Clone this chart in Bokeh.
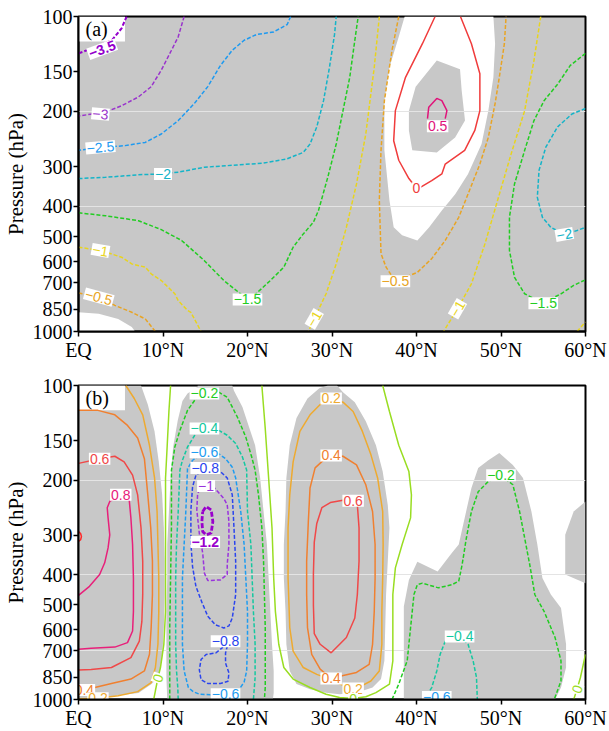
from bokeh.plotting import figure
from bokeh.layouts import column
from bokeh.models import FixedTicker, Range1d, Label, BoxAnnotation, ColumnDataSource
from bokeh.core.properties import value
from bokeh.embed import file_html
from bokeh.resources import INLINE

# ---------------- axes ----------------
LAT_TICKS = [0, 10, 20, 30, 40, 50, 60]
LAT_LABELS = ["EQ", "10°N", "20°N", "30°N", "40°N", "50°N", "60°N"]
P_TICKS = [100, 150, 200, 300, 400, 500, 600, 700, 850, 1000]

# ---------------- panel (a): contour lines (lat, hPa) ----------------
A_M35_LAT = [5.7, 5.1, 3.95, 2.0, 0.0]
A_M35_P = [100, 109, 119, 125, 131]
A_M3_LAT = [12.5, 11.8, 11.0, 9.8, 8.6, 7.1, 5.1, 3.2, 0.0]
A_M3_P = [100, 116, 128, 148, 167, 180, 192, 201, 207]
A_M25_LAT = [25.1, 24.7, 23.1, 21.1, 19.6, 18.2, 16.8, 15.3, 13.7, 11.8, 9.8, 7.9, 5.5, 3.2, 0.0]
A_M25_P = [100, 106, 112, 114, 119, 128, 143, 167, 189, 214, 236, 251, 257, 260, 266]
A_M2_LAT = [0.0, 3.2, 7.1, 9.8, 11.8, 14.9, 18.8, 21.9, 24.7, 26.6, 27.4, 28.2, 29.0, 29.7, 30.3, 30.5]
A_M2_P = [327, 324, 318, 316, 312, 301, 296, 292, 283, 270, 254, 224, 185, 145, 114, 100]
A_M15_LAT = [0.0, 3.2, 7.1, 9.8, 12.2, 14.9, 17.2, 18.8, 20.0, 21.1, 22.7, 24.3, 25.4, 26.6, 27.8, 28.4, 29.5, 30.5, 31.3, 32.1, 32.7, 33.1]
A_M15_P = [420, 429, 445, 475, 514, 596, 689, 745, 791, 755, 689, 625, 540, 490, 450, 413, 324, 254, 199, 156, 119, 100]
A_M15R_LAT = [60.0, 58.2, 56.7, 55.1, 53.9, 52.8, 51.6, 51.0, 51.0, 51.6, 52.8, 55.0, 57.1, 58.6, 60.0]
A_M15R_P = [131, 143, 164, 185, 214, 266, 340, 434, 553, 673, 759, 813, 759, 714, 685]
A_M2R_LAT = [60.0, 58.4, 56.7, 55.3, 54.5, 54.3, 54.9, 55.9, 57.5, 59.0, 60.0]
A_M2R_P = [196, 204, 224, 260, 308, 375, 434, 467, 492, 478, 467]
A_M1_LAT = [0.0, 2.6, 5.1, 6.3, 7.9, 8.6, 9.8, 10.2, 11.4, 11.8, 12.9, 13.3, 14.5]
A_M1_P = [540, 553, 581, 610, 625, 656, 689, 706, 759, 798, 857, 869, 1000]
A_M1M_LAT = [35.6, 35.0, 34.0, 32.9, 31.7, 30.5, 29.3, 27.9, 27.2]
A_M1M_P = [100, 145, 236, 340, 467, 610, 759, 912, 1000]
A_M1R_LAT = [54.7, 53.9, 52.8, 51.2, 49.7, 48.1, 46.5, 44.85, 43.2]
A_M1R_P = [100, 138, 199, 273, 375, 527, 706, 847, 1000]
A_M1C_LAT = [59.0, 60.0]
A_M1C_P = [1000, 933]
A_M05_LAT = [0.0, 2.4, 4.3, 6.3, 7.9, 9.0, 9.1]
A_M05_P = [755, 778, 826, 869, 912, 993, 1000]
A_M05M_LAT = [37.9, 37.1, 36.2, 35.8, 35.6, 35.8, 36.4, 37.5, 40.1, 41.8, 43.4, 45.0, 46.1, 47.5, 48.5, 49.3, 49.8, 50.4, 50.6]
A_M05M_P = [100, 128, 185, 266, 384, 566, 625, 693, 649, 587, 514, 434, 366, 294, 242, 189, 156, 122, 100]
A_Z_LAT = [42.2, 40.7, 38.7, 37.5, 37.3, 37.9, 39.1, 40.0, 40.5, 41.8, 43.0, 43.4, 45.7, 46.9, 47.5, 47.5, 46.5, 45.2]
A_Z_P = [100, 122, 156, 199, 248, 286, 327, 351, 348, 332, 316, 294, 266, 230, 199, 152, 122, 100]
A_P05_LAT = [41.3, 41.45, 42.4, 43.0, 43.6, 43.4]
A_P05_P = [211, 194, 182, 185, 199, 211]

# panel (a): significance shading (whole frame grey except these)
A_WHITE_LAT = [38.6, 49.1, 49.3, 49.1, 48.5, 47.7, 46.1, 44.6, 43.0, 41.5, 40.1, 38.3, 37.3, 36.8, 36.2, 36.2, 36.8, 37.9]
A_WHITE_P = [100, 100, 122, 156, 199, 254, 316, 366, 413, 467, 514, 495, 467, 384, 266, 185, 145, 116]
A_ISLAND_LAT = [39.1, 39.9, 42.4, 45.15, 45.35, 45.74, 44.57, 42.4, 39.5, 39.1]
A_ISLAND_P = [199, 167, 138, 147, 172, 214, 242, 270, 266, 230]
A_CORNER_LAT = [0.0, 2.4, 4.7, 6.3, 6.7, 0.0]
A_CORNER_P = [869, 879, 912, 968, 1000, 1000]

# panel (a): contour labels
A_LBL_TEXT = ["−3.5", "−3", "−2.5", "−2", "−1.5", "−1", "−0.5", "−1", "−0.5", "0", "0.5", "−1", "−2", "−1.5"]
A_LBL_LAT = [2.8, 2.6, 2.6, 10.0, 20.0, 2.6, 2.4, 27.9, 37.5, 40.0, 42.5, 44.85, 57.5, 55.0]
A_LBL_P = [127, 204, 260, 316, 791, 553, 778, 912, 693, 351, 223, 847, 492, 813]
A_LBL_LEVEL = [-3.5, -3, -2.5, -2, -1.5, -1, -0.5, -1, -0.5, 0, 0.5, -1, -2, -1.5]

# ---------------- panel (b): contour lines ----------------
B_P02A_LAT = [5.6, 6.6, 7.6, 8.4, 9.0, 9.3, 9.4, 9.5, 9.5, 9.4, 9.1, 8.6, 7.0, 4.7, 2.3, 0.0]
B_P02A_P = [100, 110, 124, 155, 197, 252, 321, 410, 524, 667, 791, 883, 944, 973, 991, 995]
B_P04A_LAT = [0.0, 2.3, 4.3, 5.8, 7.0, 7.8, 8.2, 8.55, 8.75, 8.75, 8.6, 8.4, 7.8, 6.2, 3.9, 0.7, 0.0]
B_P04A_P = [120, 120, 124, 134, 147, 171, 223, 284, 363, 463, 590, 718, 811, 861, 889, 933, 938]
B_P06A_LAT = [0.0, 2.5, 4.3, 5.4, 6.4, 7.0, 7.4, 7.6, 7.6, 7.5, 7.2, 6.2, 3.9, 1.5, 0.0]
B_P06A_P = [177, 171, 168, 175, 193, 223, 284, 363, 463, 564, 652, 736, 791, 802, 805]
B_P08_LAT = [0.0, 1.3, 2.5, 3.1, 3.5, 3.7, 3.5, 3.4, 3.7, 5.0, 6.0, 6.2, 6.4, 6.5, 6.5, 6.4, 5.8, 4.3, 1.5, 0.0]
B_P08_P = [466, 436, 400, 367, 329, 299, 264, 245, 234, 223, 231, 264, 321, 410, 524, 605, 659, 681, 687, 692]
B_P10_LAT = [0.0, 0.25, 0.35, 0.25, 0.0]
B_P10_P = [292, 296, 303, 310, 314]
B_Z1_LAT = [10.9, 10.7, 10.5, 10.3, 10.3, 10.3, 10.3, 10.3, 10.1, 9.7, 9.4, 9.1, 8.9]
B_Z1_P = [100, 121, 155, 197, 252, 321, 410, 524, 667, 791, 855, 938, 1000]
B_Z2_LAT = [21.7, 22.1, 22.5, 22.9, 23.1, 23.3, 23.7, 24.3, 25.4, 27.4, 29.3, 30.9, 32.5, 34.0, 35.2, 36.8, 37.2, 37.2, 37.2, 37.5, 38.3, 39.3, 39.4, 39.1, 37.9, 36.8, 36.0]
B_Z2_P = [100, 137, 197, 284, 410, 524, 667, 791, 861, 916, 962, 986, 993, 980, 951, 893, 753, 590, 463, 381, 321, 264, 223, 188, 155, 121, 100]
B_Z3_LAT = [60.0, 59.4, 59.0, 58.6]
B_Z3_P = [718, 851, 927, 1000]
B_M02_LAT = [10.8, 10.8, 10.8, 10.9, 11.0, 11.0, 11.4, 12.0, 12.9, 13.9, 14.9, 16.6, 17.6, 18.8, 19.8, 20.5, 20.9, 21.3, 21.7, 21.9, 22.0, 22.1, 22.1, 22.1, 22.0]
B_M02_P = [1000, 843, 585, 406, 282, 186, 157, 139, 120, 110, 106, 105, 109, 126, 146, 169, 186, 223, 284, 363, 463, 590, 753, 916, 1000]
B_M04_LAT = [11.8, 11.75, 11.6, 11.5, 11.5, 11.5, 11.6, 11.8, 12.0, 12.3, 12.9, 13.9, 14.9, 16.6, 17.6, 18.6, 19.4, 19.9, 20.0, 20.4, 20.55, 20.7, 20.9, 20.9, 20.7]
B_M04_P = [1000, 916, 811, 667, 524, 410, 321, 252, 186, 173, 157, 142, 137, 139, 144, 153, 169, 186, 252, 321, 410, 524, 667, 851, 1000]
B_M06_LAT = [14.9, 13.5, 12.9, 12.7, 12.5, 12.3, 12.3, 12.3, 12.5, 13.0, 13.6, 14.3, 15.6, 17.4, 19.0, 19.6, 19.9, 20.0, 20.0, 19.8, 19.6, 19.2, 18.6, 18.2, 17.4, 16.6, 14.9]
B_M06_P = [163, 173, 184, 252, 321, 410, 524, 667, 811, 916, 945, 962, 966, 962, 930, 880, 811, 667, 524, 410, 321, 252, 197, 182, 171, 165, 163]
B_M08U_LAT = [15.0, 13.9, 13.5, 13.3, 13.3, 13.5, 13.9, 14.6, 15.3, 16.2, 17.2, 17.8, 18.2, 18.6, 18.6, 18.4, 18.2, 17.6, 16.6, 15.0]
B_M08U_P = [183, 193, 210, 249, 318, 378, 437, 490, 543, 578, 592, 583, 550, 463, 363, 284, 223, 197, 186, 183]
B_M08L_LAT = [17.4, 17.0, 16.25, 15.1, 14.5, 14.3, 14.5, 15.3, 16.8, 17.7, 17.8, 17.4, 17.4, 17.6, 17.4]
B_M08L_P = [652, 685, 711, 719, 746, 804, 865, 889, 889, 875, 822, 766, 711, 678, 652]
B_M1_LAT = [15.1, 16.1, 17.2, 17.6, 17.8, 17.8, 17.6, 17.6, 16.8, 15.3, 14.9, 14.7, 14.3, 14.0, 14.1, 14.5, 15.1]
B_M1_P = [209, 212, 229, 240, 271, 321, 372, 400, 416, 418, 396, 342, 296, 249, 221, 211, 209]
B_M12_LAT = [14.7, 15.1, 15.7, 15.9, 15.7, 15.1, 14.7, 14.6, 14.7]
B_M12_P = [252, 243, 249, 271, 295, 299, 292, 271, 252]
B_P02B_LAT = [29.9, 31.3, 32.5, 33.6, 34.6, 35.4, 36.0, 36.05, 36.0, 35.9, 35.9, 35.6, 34.6, 33.5, 32.5, 31.0, 29.7, 28.2, 26.6, 25.4, 25.0, 24.8, 24.8, 25.0, 25.4, 26.2, 27.4, 28.6, 29.3, 29.9]
B_P02B_P = [110, 113, 121, 140, 166, 197, 252, 321, 410, 524, 667, 811, 873, 905, 923, 895, 861, 832, 791, 701, 590, 410, 284, 223, 175, 140, 124, 115, 111, 110]
B_P04B_LAT = [29.9, 31.3, 32.9, 34.0, 34.8, 35.1, 35.1, 35.0, 34.8, 34.4, 32.9, 31.2, 29.9, 28.6, 27.6, 27.1, 27.0, 27.0, 27.2, 27.4, 28.0, 29.7, 29.9]
B_P04B_P = [167, 168, 179, 207, 252, 321, 410, 524, 667, 773, 820, 840, 857, 800, 718, 590, 463, 363, 271, 212, 183, 166, 167]
B_P06B_LAT = [32.5, 33.0, 33.2, 33.2, 33.0, 32.7, 31.7, 29.9, 28.6, 27.9, 27.8, 27.8, 27.9, 28.2, 28.8, 29.8, 31.3, 32.5]
B_P06B_P = [233, 240, 284, 363, 463, 550, 635, 710, 667, 617, 501, 398, 316, 275, 245, 236, 232, 233]
B_M02B_LAT = [37.1, 37.9, 38.9, 39.3, 39.7, 40.1, 40.7, 42.6, 44.2, 45.0, 45.4, 45.9, 46.5, 47.3, 48.5, 50.0, 51.4, 52.2, 52.8, 53.4, 54.0, 55.1, 56.4, 57.1, 57.1, 56.3]
B_M02B_P = [1000, 893, 753, 590, 463, 431, 426, 441, 431, 420, 372, 306, 252, 218, 202, 193, 207, 252, 306, 372, 463, 524, 635, 753, 873, 1000]
B_M04B_LAT = [40.7, 41.2, 41.8, 42.4, 42.8, 43.4, 45.1, 46.1, 46.7, 47.1, 47.2]
B_M04B_P = [1000, 973, 916, 811, 718, 652, 630, 667, 753, 851, 1000]

# panel (b): significance shading (grey patches on white)
B_S1_LAT = [0.0, 7.4, 8.2, 9.0, 9.5, 9.9, 10.1, 10.2, 10.2, 10.1, 9.9, 9.5, 8.6, 7.1, 3.2, 0.0]
B_S1_P = [100, 100, 115, 140, 175, 223, 284, 363, 463, 590, 736, 851, 895, 953, 982, 989]
B_S2_LAT = [12.9, 14.1, 14.1, 18.2, 18.4, 19.4, 20.2, 20.9, 21.5, 21.9, 22.3, 22.5, 22.7, 22.9, 23.1, 23.1, 23.0, 10.5, 10.4, 10.4, 10.4, 10.5, 10.5, 10.7, 10.9, 11.2, 11.75, 12.3]
B_S2_P = [106, 101, 100, 100, 104, 117, 136, 155, 197, 252, 321, 410, 524, 667, 811, 953, 1000, 1000, 851, 667, 524, 410, 321, 252, 197, 157, 129, 112]
B_S3_LAT = [27.1, 28.5, 29.5, 30.6, 31.3, 32.7, 34.0, 35.2, 36.0, 36.6, 36.8, 36.6, 36.4, 36.3, 36.2, 35.8, 34.8, 32.9, 30.9, 29.3, 27.4, 25.8, 25.0, 24.6, 24.5, 24.3, 24.3, 24.5, 24.6, 25.0, 25.8]
B_S3_P = [110, 102, 100, 100, 105, 113, 130, 155, 188, 240, 284, 363, 463, 590, 753, 861, 916, 951, 962, 951, 927, 893, 811, 667, 524, 410, 321, 252, 197, 155, 127]
B_S4_LAT = [38.5, 38.5, 39.1, 40.1, 42.5, 44.2, 45.0, 45.7, 46.5, 47.3, 48.5, 49.8, 51.4, 52.6, 53.6, 54.3, 54.9, 55.9, 57.1, 57.7, 57.7, 57.1, 56.4]
B_S4_P = [1000, 506, 416, 364, 391, 341, 321, 264, 212, 183, 173, 164, 179, 197, 252, 321, 410, 463, 511, 667, 791, 916, 1000]
B_S5_LAT = [60.0, 58.6, 57.6, 57.6, 60.0]
B_S5_P = [234, 252, 299, 400, 426]

# panel (b): contour labels
B_LBL_TEXT = ["0.6", "0.8", "0.4", "0.2", "0", "−0.2", "−0.4", "−0.6", "−0.8", "−1", "−1.2", "−0.8", "−0.6",
              "0.2", "0.4", "0.6", "0.4", "0.2", "0", "−0.2", "−0.4", "−0.6", "0"]
B_LBL_LAT = [2.5, 5.0, 0.7, 2.3, 9.4, 14.9, 14.9, 14.9, 15.0, 15.1, 15.0, 17.4, 17.4,
             29.9, 29.9, 32.5, 29.9, 32.5, 32.5, 50.0, 45.1, 42.4, 59.0]
B_LBL_P = [171, 223, 933, 991, 855, 106, 137, 163, 183, 209, 315, 652, 962,
           110, 167, 233, 857, 923, 997, 193, 630, 982, 927]
B_LBL_LEVEL = [0.6, 0.8, 0.4, 0.2, 0, -0.2, -0.4, -0.6, -0.8, -1, -1.2, -0.8, -0.6,
               0.2, 0.4, 0.6, 0.4, 0.2, 0, -0.2, -0.4, -0.6, 0]

# ---------------- styles ----------------
GRAY = "#c8c8c8"
SERIF = "Liberation Serif"
SANS = "Liberation Sans"
A_COLORS = {-3.5: "#9400cc", -3: "#9933cc", -2.5: "#1e9af0", -2: "#14b4c8", -1.5: "#22cc22",
            -1: "#e8d41e", -0.5: "#e8a424", 0: "#f03c3c", 0.5: "#e0147a"}
B_COLORS = {-1.2: "#9900cc", -1: "#9933dd", -0.8: "#2a44ee", -0.6: "#1e9cf0", -0.4: "#14c8a0",
            -0.2: "#22cc22", 0: "#99dd22", 0.2: "#eeaa30", 0.4: "#f08030", 0.6: "#f04848",
            0.8: "#e8207a", 1.0: "#ff2a2a"}
A_ANGLES = [20, -5, 5, 0, 0, -10, -15, 60, 0, 0, 0, 60, 10, 0]
A_BOLD = [True] + [False] * 13
B_ANGLES = [0, 0, 0, 0, 70, 0, 0, 0, 0, 0, 0, 0, 0, 0, 0, 0, 0, 0, 0, 0, 0, 0, 70]
B_BOLD = [False] * 10 + [True] + [False] * 12


def base_fig(height, top, bottom, bg, grid_ticks):
    p = figure(width=609, height=height, x_range=Range1d(0, 60), y_range=Range1d(1000, 100),
               y_axis_type="log", output_backend="svg", toolbar_location=None,
               min_border_left=73, min_border_right=24, min_border_top=top, min_border_bottom=bottom,
               background_fill_color=bg, border_fill_color="white")
    p.outline_line_color = "black"
    p.outline_line_width = 2
    p.outline_line_alpha = 1
    p.xaxis.ticker = FixedTicker(ticks=LAT_TICKS)
    p.xaxis.major_label_overrides = {t: l for t, l in zip(LAT_TICKS, LAT_LABELS)}
    p.yaxis.ticker = FixedTicker(ticks=P_TICKS)
    p.yaxis.major_label_overrides = {t: str(t) for t in P_TICKS}
    p.yaxis.axis_label = "Pressure (hPa)"
    for ax in (p.xaxis[0], p.yaxis[0]):
        ax.axis_line_width = 2
        ax.axis_line_color = "black"
        ax.major_tick_line_width = 1.5
        ax.major_tick_line_color = "black"
        ax.major_tick_out = 5
        ax.major_tick_in = 0
        ax.minor_tick_out = 0
        ax.minor_tick_in = 0
        ax.major_label_text_font = SERIF
        ax.major_label_text_font_size = "20px"
        ax.major_label_text_color = "black"
        ax.major_label_standoff = 1
        ax.axis_label_text_font = SERIF
        ax.axis_label_text_font_size = "21px"
        ax.axis_label_text_font_style = "normal"
        ax.axis_label_text_color = "black"
        ax.axis_label_standoff = 2
    p.xaxis.major_label_standoff = 2
    p.xgrid.visible = False
    p.ygrid.ticker = FixedTicker(ticks=grid_ticks)
    p.ygrid.grid_line_color = "#e4e4e4"
    p.ygrid.grid_line_width = 1
    return p


def draw_lines(p, lines, colors):
    for lat, pres, lev in lines:
        dash = "solid" if lev >= 0 else "4 2"
        width = 1.5
        if lev == -3.5:
            width = 2.0
        if lev == -1.2:
            width = 2.8
            dash = "5 2"
        p.line(lat, pres, line_color=colors[lev], line_width=width, line_dash=dash)


def draw_labels(p, texts, lats, press, levels, angles, bold, colors):
    for want_bold in (False, True):
        idx = [i for i in range(len(texts)) if bold[i] == want_bold]
        if not idx:
            continue
        src = ColumnDataSource(dict(
            x=[lats[i] for i in idx], y=[press[i] for i in idx], t=[texts[i] for i in idx],
            c=[colors[levels[i]] for i in idx], a=[angles[i] for i in idx]))
        p.text(x="x", y="y", text="t", source=src, text_color="c", angle="a", angle_units="deg",
               text_font=value(SANS), text_font_size="14px",
               text_font_style="bold" if want_bold else "normal",
               text_align="center", text_baseline="middle",
               background_fill_color="white", padding=1)


def panel_tag(p, tag, box_bottom):
    p.add_layout(BoxAnnotation(left=0, right=5.5, top=100, bottom=box_bottom,
                               fill_color="white", fill_alpha=1, line_color=None, line_alpha=0,
                               level="underlay"))
    p.add_layout(Label(x=0, y=100, x_offset=7, y_offset=-1, text=tag, text_font=SERIF,
                       text_font_size="20px", text_baseline="top", text_align="left",
                       text_color="black"))


# ---------------- panel (a) ----------------
pa = base_fig(371, 16, 40, GRAY, [200, 400])
pa.patch(A_WHITE_LAT, A_WHITE_P, fill_color="white", line_color=None, level="image")
pa.patch(A_ISLAND_LAT, A_ISLAND_P, fill_color=GRAY, line_color=None, level="image")
pa.patch(A_CORNER_LAT, A_CORNER_P, fill_color="white", line_color=None, level="image")
A_LINES = [(A_M35_LAT, A_M35_P, -3.5), (A_M3_LAT, A_M3_P, -3), (A_M25_LAT, A_M25_P, -2.5),
           (A_M2_LAT, A_M2_P, -2), (A_M15_LAT, A_M15_P, -1.5), (A_M15R_LAT, A_M15R_P, -1.5),
           (A_M2R_LAT, A_M2R_P, -2), (A_M1_LAT, A_M1_P, -1), (A_M1M_LAT, A_M1M_P, -1),
           (A_M1R_LAT, A_M1R_P, -1), (A_M1C_LAT, A_M1C_P, -1), (A_M05_LAT, A_M05_P, -0.5),
           (A_M05M_LAT, A_M05M_P, -0.5), (A_Z_LAT, A_Z_P, 0), (A_P05_LAT, A_P05_P, 0.5)]
draw_lines(pa, A_LINES, A_COLORS)
draw_labels(pa, A_LBL_TEXT, A_LBL_LAT, A_LBL_P, A_LBL_LEVEL, A_ANGLES, A_BOLD, A_COLORS)
panel_tag(pa, "(a)", 120)

# ---------------- panel (b) ----------------
pb = base_fig(360, 14, 31, "white", [200, 400, 700])
for slat, sp in [(B_S1_LAT, B_S1_P), (B_S2_LAT, B_S2_P), (B_S3_LAT, B_S3_P),
                 (B_S4_LAT, B_S4_P), (B_S5_LAT, B_S5_P)]:
    pb.patch(slat, sp, fill_color=GRAY, line_color=None, level="image")
B_LINES = [(B_P02A_LAT, B_P02A_P, 0.2), (B_P04A_LAT, B_P04A_P, 0.4), (B_P06A_LAT, B_P06A_P, 0.6),
           (B_P08_LAT, B_P08_P, 0.8), (B_P10_LAT, B_P10_P, 1.0), (B_Z1_LAT, B_Z1_P, 0),
           (B_Z2_LAT, B_Z2_P, 0), (B_Z3_LAT, B_Z3_P, 0), (B_M02_LAT, B_M02_P, -0.2),
           (B_M04_LAT, B_M04_P, -0.4), (B_M06_LAT, B_M06_P, -0.6), (B_M08U_LAT, B_M08U_P, -0.8),
           (B_M08L_LAT, B_M08L_P, -0.8), (B_M1_LAT, B_M1_P, -1), (B_M12_LAT, B_M12_P, -1.2),
           (B_P02B_LAT, B_P02B_P, 0.2), (B_P04B_LAT, B_P04B_P, 0.4), (B_P06B_LAT, B_P06B_P, 0.6),
           (B_M02B_LAT, B_M02B_P, -0.2), (B_M04B_LAT, B_M04B_P, -0.4)]
draw_lines(pb, B_LINES, B_COLORS)
draw_labels(pb, B_LBL_TEXT, B_LBL_LAT, B_LBL_P, B_LBL_LEVEL, B_ANGLES, B_BOLD, B_COLORS)
panel_tag(pb, "(b)", 120)

layout = column(pa, pb, spacing=0)
open("out.html", "w").write(file_html(layout, INLINE))
